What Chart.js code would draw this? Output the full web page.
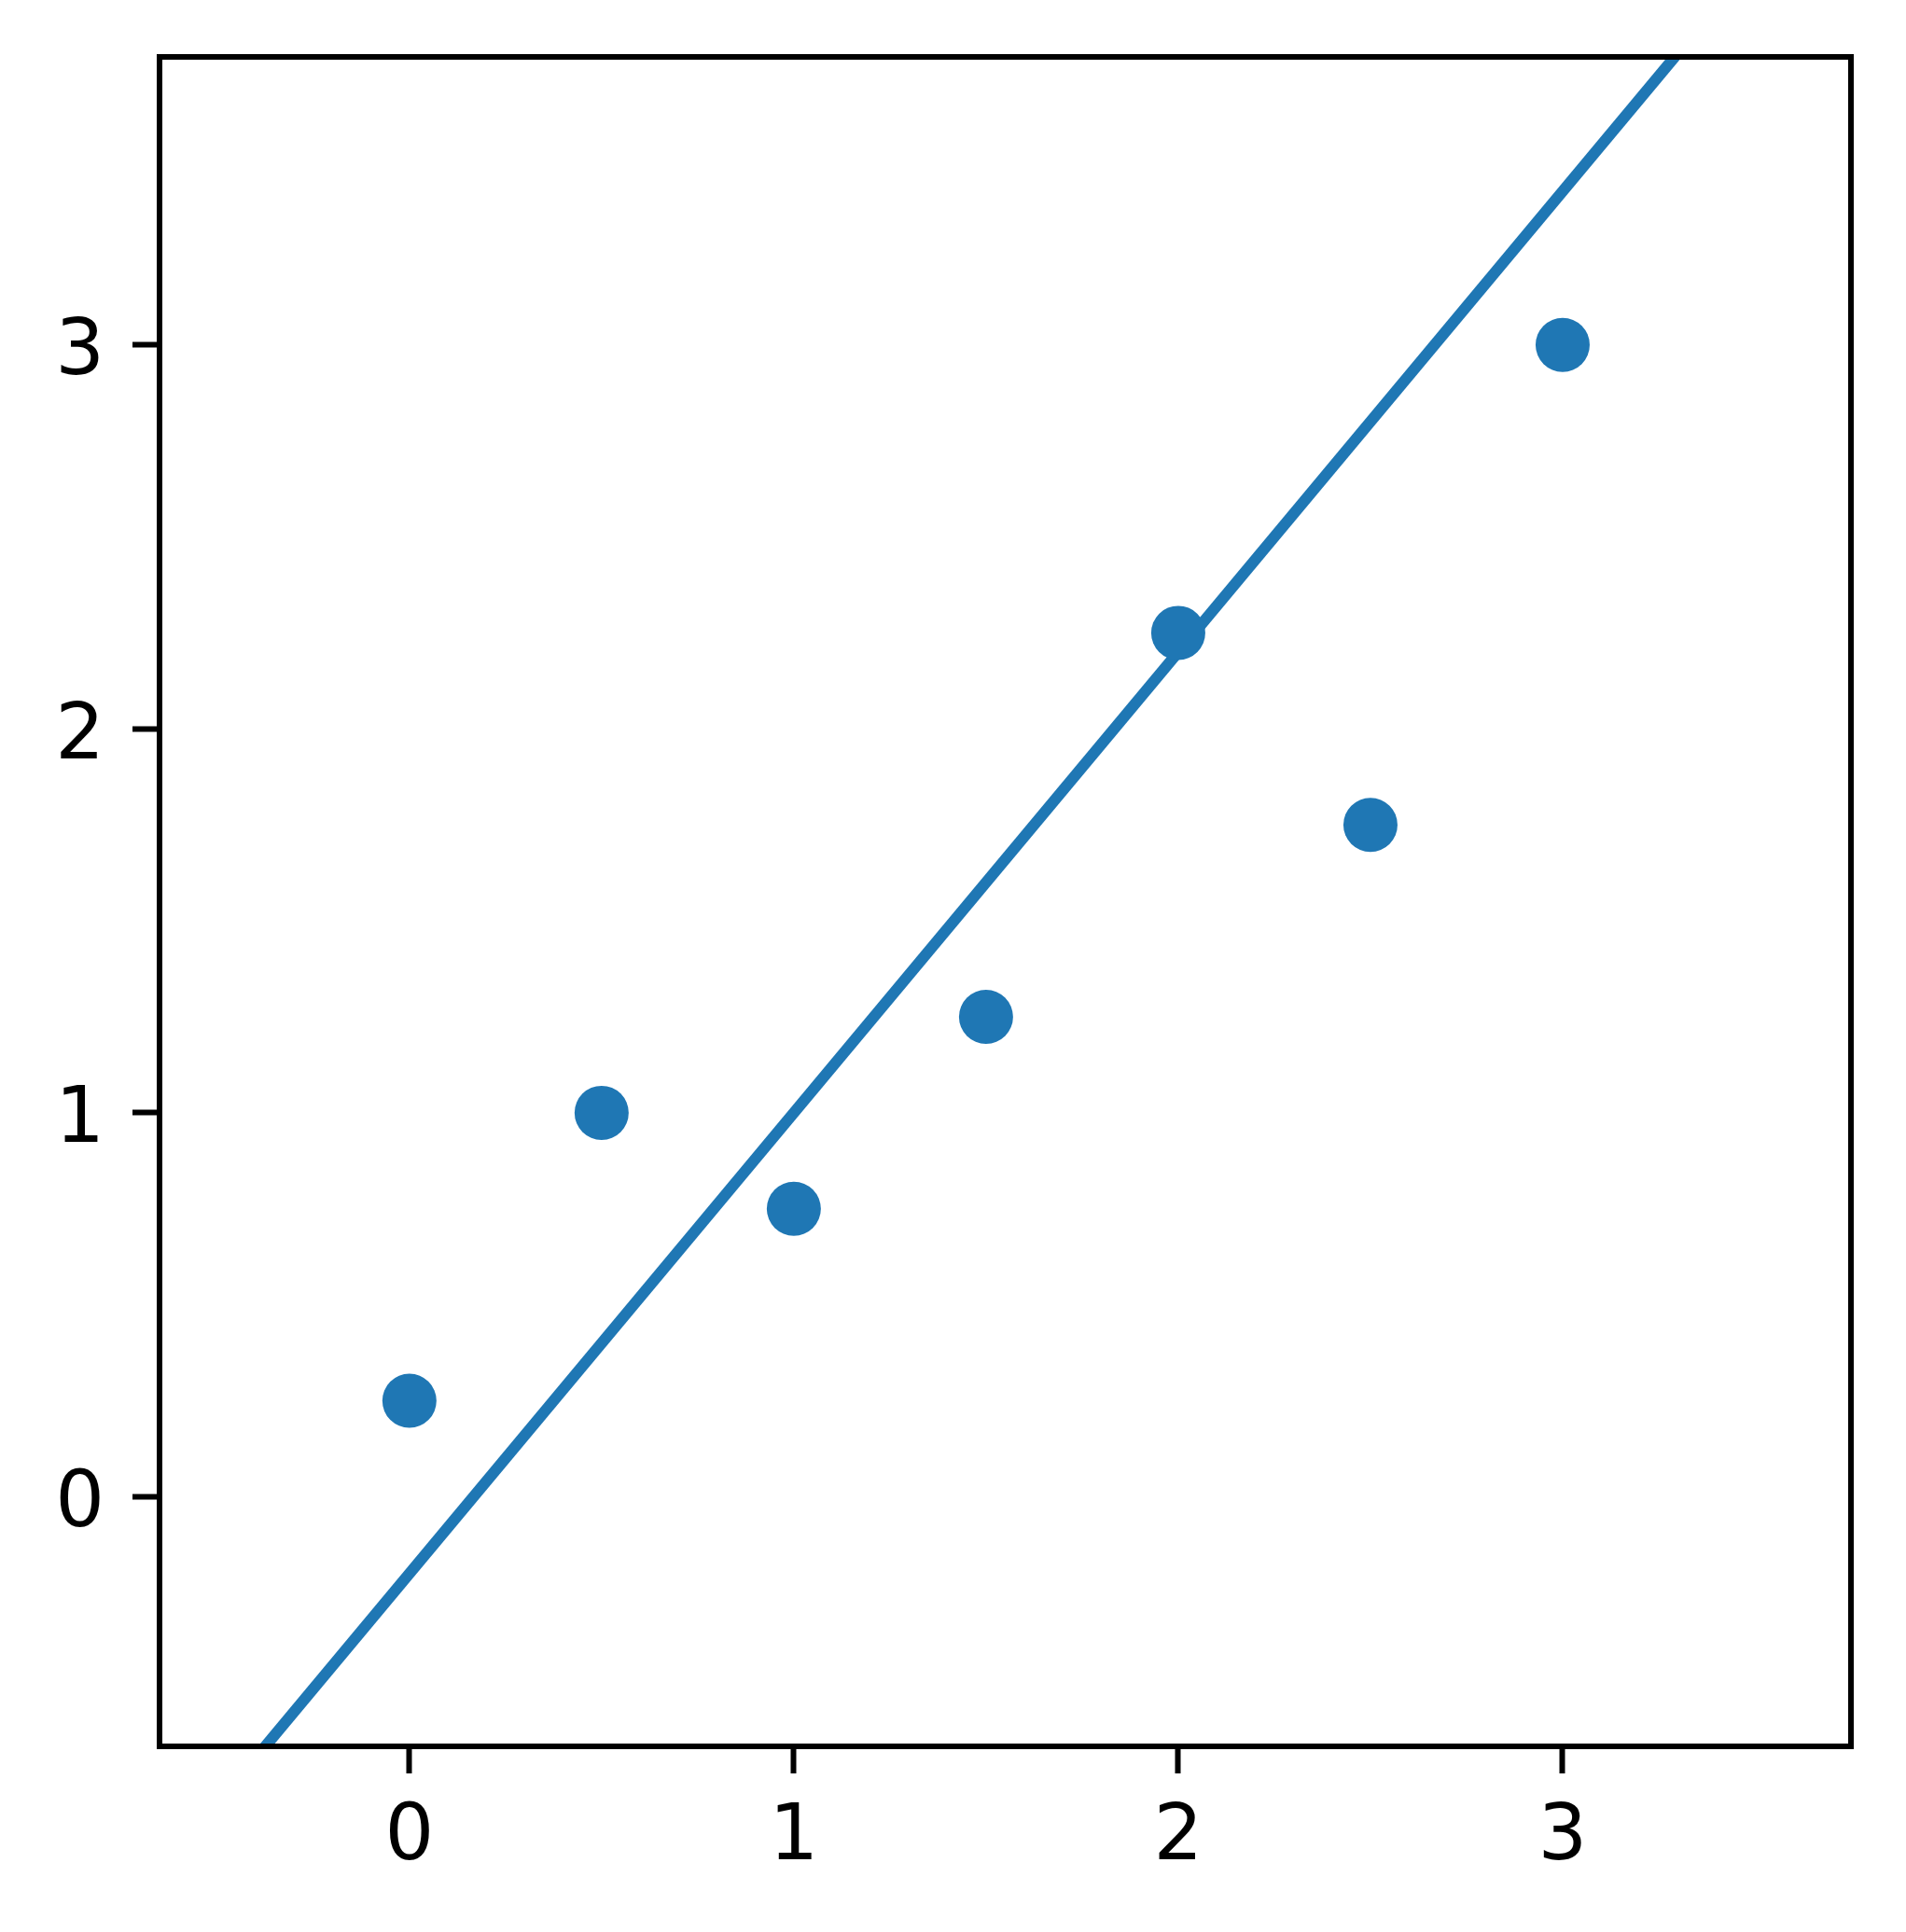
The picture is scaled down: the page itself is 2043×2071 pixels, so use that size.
<!DOCTYPE html>
<html>
<head>
<meta charset="utf-8">
<script src="https://cdn.jsdelivr.net/npm/chart.js@4"></script>
<style>
  html, body { margin: 0; padding: 0; background: #fff; }
  #wrap { width: 2043px; height: 2071px; }
</style>
</head>
<body>
<div id="wrap"><canvas id="chart" width="2043" height="2071"></canvas></div>
<script>
// scatter points
const xValues = [0, 0.5, 1, 1.5, 2, 2.5, 3];
const yValues = [0.25, 1.0, 0.75, 1.25, 2.25, 1.75, 3.0];
// fitted line, endpoints beyond the axes (clipped)
const lineX = [-1, 4];
const lineY = [-1.4, 4.6];
// tick labels
const xTicks = [0, 1, 2, 3];
const yTicks = [0, 1, 2, 3];

const blue = '#1f77b4';

// box around the plot area (matplotlib spines)
const frame = {
  id: 'frame',
  afterDraw(chart) {
    const { ctx, chartArea: a } = chart;
    ctx.save();
    ctx.strokeStyle = '#000';
    ctx.lineWidth = 6;
    ctx.strokeRect(a.left, a.top, a.right - a.left, a.bottom - a.top);
    ctx.restore();
  }
};

const ctx = document.getElementById('chart').getContext('2d');
new Chart(ctx, {
  type: 'scatter',
  data: {
    datasets: [
      {
        type: 'line',
        data: lineX.map((x, i) => ({ x: x, y: lineY[i] })),
        borderColor: blue,
        borderWidth: 12,
        pointRadius: 0,
        fill: false,
        clip: 0,
        order: 2
      },
      {
        data: xValues.map((x, i) => ({ x: x, y: yValues[i] })),
        backgroundColor: blue,
        borderWidth: 0,
        pointRadius: 29,
        clip: 0,
        order: 1
      }
    ]
  },
  options: {
    responsive: false,
    animation: false,
    layout: { padding: { left: 0, top: 61, right: 59, bottom: 0 } },
    plugins: { legend: { display: false }, tooltip: { enabled: false } },
    scales: {
      x: {
        type: 'linear',
        min: -0.65,
        max: 3.75,
        afterBuildTicks: (s) => { s.ticks = xTicks.map(v => ({ value: v })); },
        afterFit: (s) => { s.height = 199; s.paddingLeft = 0; s.paddingRight = 0; },
        border: { display: false },
        grid: { drawOnChartArea: false, drawTicks: true, tickLength: 29, tickWidth: 6, tickColor: '#000' },
        ticks: { color: '#000', padding: 21, font: { family: 'DejaVu Sans', size: 83 } }
      },
      y: {
        type: 'linear',
        min: -0.65,
        max: 3.75,
        afterBuildTicks: (s) => { s.ticks = yTicks.map(v => ({ value: v })); },
        afterFit: (s) => { s.width = 171; s.paddingTop = 0; s.paddingBottom = 0; },
        border: { display: false },
        grid: { drawOnChartArea: false, drawTicks: true, tickLength: 29, tickWidth: 6, tickColor: '#000' },
        ticks: { color: '#000', padding: 30, labelOffset: 10, font: { family: 'DejaVu Sans', size: 83 } }
      }
    }
  },
  plugins: [frame]
});
</script>
</body>
</html>
